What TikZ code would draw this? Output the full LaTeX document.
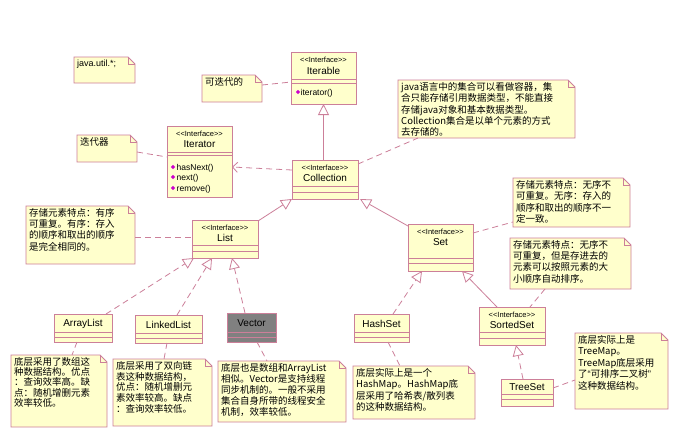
\documentclass[tikz,border=0pt]{standalone}
\usepackage{fontspec}
\setmainfont{Liberation Sans}
\newfontfamily\cjk{Noto Sans CJK SC}
\usetikzlibrary{arrows.meta,calc}
\definecolor{boxfill}{HTML}{FFFFCC}
\definecolor{edgec}{HTML}{CC7F99}
\definecolor{vecfill}{HTML}{808080}
\definecolor{mth}{HTML}{CC00CC}
\tikzset{
  umlbox/.style={draw=edgec, line width=0.8pt, inner sep=0pt, outer sep=0pt},
  notebg/.style={inner sep=0pt, outer sep=0pt},
  noteline/.style={draw=edgec, fill=boxfill, line width=0.8pt, line join=miter},
  sepline/.style={draw=edgec, line width=0.8pt},
  stereo/.style={font=\fontsize{7.5}{8}\selectfont, inner sep=0pt},
  cname/.style={font=\fontsize{10}{11}\selectfont, inner sep=0pt},
  meth/.style={font=\fontsize{8.5}{9}\selectfont, inner sep=0pt, anchor=west},
  notetxt/.style={anchor=north west, align=left, inner sep=0pt},
  gen/.style={draw=edgec, line width=0.8pt, -{Triangle[open,length=11pt,width=11pt]}},
  real/.style={gen, dash pattern=on 6pt off 4pt},
  dep/.style={draw=edgec, line width=0.8pt, dash pattern=on 6pt off 4pt, -{Straight Barb[length=5pt,width=10pt]}},
  attach/.style={draw=edgec, line width=0.8pt, dash pattern=on 6pt off 4pt},
}
\newcommand\umlclass[8]{%
  \node[umlbox, fill=#8, minimum width={(#4-#2)*1pt}, minimum height={(#5-#3)*1pt}] (#1) at ({(#2+#4)/2},{(#3+#5)/2}) {};
  \draw[sepline] (#2,#6) -- (#4,#6) (#2,#7) -- (#4,#7);
}
% name x1 y1 x2 y2 baselineskip text
\newcommand\umlnote[7]{%
  \node[notebg, minimum width={(#4-#2)*1pt}, minimum height={(#5-#3)*1pt}] (#1) at ({(#2+#4)/2},{(#3+#5)/2}) {};
  \draw[noteline] (#1.north west) -- ($(#1.north east)+(-7,0)$) -- ($(#1.north east)+(0,7)$) -- (#1.south east) -- (#1.south west) -- cycle;
  \draw[sepline] ($(#1.north east)+(-7,0)$) -- ($(#1.north east)+(-7,7)$) -- ($(#1.north east)+(0,7)$);
  \node[notetxt, font={\cjk\fontsize{9.5}{#6}\selectfont}] at ($(#1.north west)+(3,2)$) {#7};
}
\newcommand\mico[2]{\fill[mth] (#1,#2) ++(-2.2,0) -- ++(2.2,-2.2) -- ++(2.2,2.2) -- ++(-2.2,2.2) -- cycle;}
\begin{document}
\begin{tikzpicture}[x=1pt,y=-1pt]
\useasboundingbox (0,0) rectangle (692,432);
\fill[white] (0,0) rectangle (692,432);

% ---------- classes ----------
\umlclass{iterable}{291}{52}{356}{104}{79}{83}{boxfill}
\node[stereo] at ($(iterable.north)+(0,8)$) {<\kern0pt<Interface>\kern0pt>};
\node[cname] at ($(iterable.north)+(0,19)$) {Iterable};
\mico{298}{92}
\node[meth] at (300.5,93) {iterator()};

\umlclass{iterator}{167}{126}{232}{197}{152}{155}{boxfill}
\node[stereo] at ($(iterator.north)+(0,8)$) {<\kern0pt<Interface>\kern0pt>};
\node[cname] at ($(iterator.north)+(0,18)$) {Iterator};
\mico{173}{167}\mico{173}{177}\mico{173}{188}
\node[meth] at (176.5,168) {hasNext()};
\node[meth] at (176.5,178.5) {next()};
\node[meth] at (176.5,189) {remove()};

\umlclass{collection}{292}{160}{358}{199}{186}{192}{boxfill}
\node[stereo] at ($(collection.north)+(0,7.5)$) {<\kern0pt<Interface>\kern0pt>};
\node[cname] at ($(collection.north)+(0,18)$) {Collection};

\umlclass{list}{192}{220}{258}{258}{245}{251}{boxfill}
\node[stereo] at ($(list.north)+(0,7.5)$) {<\kern0pt<Interface>\kern0pt>};
\node[cname] at ($(list.north)+(0,18)$) {List};

\umlclass{set}{408}{224}{473}{271}{258}{263}{boxfill}
\node[stereo] at ($(set.north)+(0,8)$) {<\kern0pt<Interface>\kern0pt>};
\node[cname] at ($(set.north)+(0,18.5)$) {Set};

\umlclass{sortedset}{479}{307}{545}{345}{332}{338}{boxfill}
\node[stereo] at ($(sortedset.north)+(0,7.5)$) {<\kern0pt<Interface>\kern0pt>};
\node[cname] at ($(sortedset.north)+(0,17.5)$) {SortedSet};

\umlclass{hashset}{354}{314}{409}{342}{332}{337}{boxfill}
\node[cname] at ($(hashset.north)+(0,9.5)$) {HashSet};

\umlclass{treeset}{501}{379}{553}{406}{394}{399}{boxfill}
\node[cname] at ($(treeset.north)+(0,8.5)$) {TreeSet};

\umlclass{arraylist}{54}{314}{112}{342}{332}{337}{boxfill}
\node[cname] at ($(arraylist.north)+(0,9.5)$) {ArrayList};

\umlclass{linkedlist}{135}{315}{202}{343}{333}{338}{boxfill}
\node[cname] at ($(linkedlist.north)+(0,9.5)$) {LinkedList};

\umlclass{vector}{227}{313}{276}{342}{332}{337}{vecfill}
\node[cname] at ($(vector.north)+(0,10)$) {Vector};

% ---------- notes ----------
\node[notebg, minimum width=61pt, minimum height=26pt] (utilnote) at (104.5,70) {};
\draw[noteline] (utilnote.north west) -- ($(utilnote.north east)+(-7,0)$) -- ($(utilnote.north east)+(0,7)$) -- (utilnote.south east) -- (utilnote.south west) -- cycle;
\draw[sepline] ($(utilnote.north east)+(-7,0)$) -- ($(utilnote.north east)+(-7,7)$) -- ($(utilnote.north east)+(0,7)$);
\node[notetxt, font=\fontsize{9}{10}\selectfont] at ($(utilnote.north west)+(3,3)$) {java.util.*;};

\umlnote{ablenote}{202}{75}{262}{102}{11}{可迭代的}
\umlnote{itnote}{77}{135}{137}{162}{11}{迭代器}
\umlnote{javanote}{398}{80}{575}{138}{11.4}{java语言中的集合可以看做容器，集\\合只能存储引用数据类型，不能直接\\存储java对象和基本数据类型。\\Collection集合是以单个元素的方式\\去存储的。}
\umlnote{listnote}{26}{206}{135}{264}{11.3}{存储元素特点：有序\\可重复。有序：存入\\的顺序和取出的顺序\\是完全相同的。}
\umlnote{setnote}{513}{178}{630}{227}{11.5}{存储元素特点：无序不\\可重复。无序：存入的\\顺序和取出的顺序不一\\定一致。}
\umlnote{sortnote}{510}{238}{631}{289}{11.3}{存储元素特点：无序不\\可重复，但是存进去的\\元素可以按照元素的大\\小顺序自动排序。}
\umlnote{alnote}{11}{355}{107}{427}{10.3}{底层采用了数组这\\种数据结构。优点\\：查询效率高。缺\\点：随机增删元素\\效率较低。}
\umlnote{llnote}{113}{359}{212}{426}{10.8}{底层采用了双向链\\表这种数据结构，\\优点：随机增删元\\素效率较高。缺点\\：查询效率较低。}
\umlnote{vecnote}{218}{361}{346}{422}{11}{底层也是数组和ArrayList\\相似。Vector是支持线程\\同步机制的。一般不采用\\集合自身所带的线程安全\\机制，效率较低。}
\umlnote{hsnote}{353}{366}{475}{419}{11.5}{底层实际上是一个\\HashMap。HashMap底\\层采用了哈希表/散列表\\的这种数据结构。}
\umlnote{tsnote}{575}{333}{668}{409}{11.5}{底层实际上是\\TreeMap。\\TreeMap底层采用\\了{\rmfamily “}可排序二叉树{\rmfamily ”}\\这种数据结构。}

% ---------- connectors ----------
\draw[gen] (collection.north -| iterable.south) -- (iterable.south);
\draw[dep] ($(collection.west)+(0,-9.5)$) -- ($(iterator.east)+(0,5.5)$);
\draw[attach] ($(itnote.east)+(0,3.5)$) -- ($(iterator.west)+(0,-4.5)$);
\draw[attach] ($(ablenote.east)+(0,-3.5)$) -- ($(iterable.west)+(0,4)$);
\draw[attach] ($(collection.north east)+(0,4)$) -- ($(javanote.south west)+(20,0)$);
\draw[gen] ($(list.north east)+(0,1)$) -- (collection.south west);
\draw[gen] ($(set.north west)+(0,2)$) -- ($(collection.south east)+(2,0)$);
\draw[attach] ($(listnote.east)+(0,2)$) -- ($(list.west)+(0,-2)$);
\draw[attach] ($(set.east)+(0,-14.5)$) -- ($(setnote.south west)+(0,-5)$);
\draw[gen] ($(sortedset.north west)+(18,0)$) -- ($(set.south east)+(-11,0)$);
\draw[real] ($(hashset.north)+(11.5,0)$) -- ($(set.south west)+(14,0)$);
\draw[attach] ($(sortnote.south west)+(35,0)$) -- ($(sortedset.north)+(18,0)$);
\draw[attach] ($(hashset.south)+(6.5,0)$) -- ($(hsnote.north west)+(47,0)$);
\draw[real] ($(treeset.north)+(-4,0)$) -- ($(sortedset.south)+(4,0)$);
\draw[attach] ($(treeset.east)+(0,-4.5)$) -- ($(tsnote.north west)+(0,47)$);
\draw[real] ($(arraylist.north east)+(-6,0)$) -- ($(list.south west)+(2,0)$);
\draw[real] ($(linkedlist.north)+(8.5,0)$) -- ($(list.south west)+(20,0)$);
\draw[real] ($(vector.north)+(-6.5,0)$) -- ($(list.south west)+(40,0)$);
\draw[attach] ($(arraylist.south)+(-6,0)$) -- ($(alnote.north west)+(61,0)$);
\draw[attach] ($(linkedlist.south)+(-1.5,0)$) -- ($(llnote.north west)+(51,0)$);
\draw[attach] ($(vector.south)+(5.5,0)$) -- ($(vecnote.north west)+(49,0)$);
\end{tikzpicture}
\end{document}
